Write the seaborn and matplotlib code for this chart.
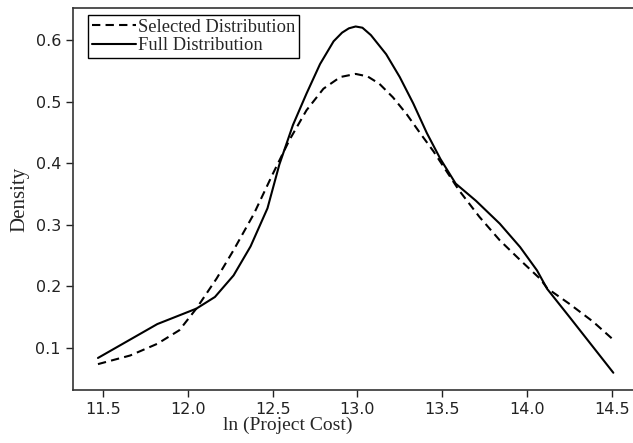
import pandas as pd
import matplotlib.pyplot as plt
import seaborn as sns

# values
full_x = [11.47, 11.82, 12.05, 12.16, 12.27, 12.37, 12.47, 12.54, 12.62, 12.70,
          12.78, 12.86, 12.91, 12.95, 12.99, 13.03, 13.08, 13.17, 13.25, 13.33,
          13.41, 13.49, 13.58, 13.70, 13.84, 13.96, 14.06, 14.12, 14.25, 14.39,
          14.51]
full_y = [0.084, 0.139, 0.164, 0.183, 0.218, 0.265, 0.327, 0.398, 0.462, 0.513,
          0.561, 0.598, 0.612, 0.619, 0.622, 0.620, 0.608, 0.577, 0.540, 0.497,
          0.449, 0.407, 0.367, 0.339, 0.302, 0.264, 0.226, 0.196, 0.151, 0.102,
          0.060]

sel_x = [11.47, 11.66, 11.82, 11.95, 12.05, 12.17, 12.27, 12.39, 12.50, 12.60,
         12.70, 12.80, 12.90, 12.99, 13.06, 13.13, 13.21, 13.29, 13.37, 13.45,
         13.60, 13.72, 13.84, 13.96, 14.08, 14.12, 14.25, 14.39, 14.50]
sel_y = [0.074, 0.088, 0.107, 0.129, 0.164, 0.213, 0.259, 0.318, 0.382, 0.438,
         0.486, 0.521, 0.540, 0.545, 0.541, 0.529, 0.507, 0.480, 0.449, 0.419,
         0.356, 0.313, 0.275, 0.243, 0.212, 0.197, 0.172, 0.143, 0.116]

labels = ['Selected Distribution', 'Full Distribution']
x_ticks = [11.5, 12.0, 12.5, 13.0, 13.5, 14.0, 14.5]
y_ticks = [0.1, 0.2, 0.3, 0.4, 0.5, 0.6]

df = pd.concat([
    pd.DataFrame({'x': sel_x, 'y': sel_y, 'dist': labels[0]}),
    pd.DataFrame({'x': full_x, 'y': full_y, 'dist': labels[1]}),
])

sns.set_style('ticks')
plt.rcParams['font.family'] = ['DejaVu Sans']
serif = ['Liberation Serif', 'DejaVu Serif']

fig = plt.figure(figsize=(6.33, 4.43), dpi=100)
ax = fig.add_axes([72.7 / 633, 53 / 443, 1 - 72.7 / 633, 382 / 443])

sns.lineplot(data=df, x='x', y='y', hue='dist', style='dist',
             hue_order=labels, style_order=labels,
             palette={labels[0]: 'black', labels[1]: 'black'},
             dashes={labels[0]: (4, 2.5), labels[1]: ''},
             linewidth=1.5, ax=ax)

ax.set_xlim(11.321, 14.626)
ax.set_ylim(0.032, 0.652)
ax.set_xticks(x_ticks)
ax.set_yticks(y_ticks)
ax.tick_params(labelsize=11.5, length=5, width=1, colors='#222222')
for side in ['left', 'bottom', 'top']:
    ax.spines[side].set_color('#333333')
    ax.spines[side].set_linewidth(1.2)
ax.spines['right'].set_visible(False)

ax.set_xlabel('ln (Project Cost)', family=serif, fontsize=14)
ax.xaxis.set_label_coords(0.384, -0.071)
ax.set_ylabel('Density', family=serif, fontsize=15, labelpad=4)

leg = ax.legend(loc='upper left', bbox_to_anchor=(0.027, 0.982),
                borderaxespad=0, prop={'family': serif, 'size': 13.3},
                handlelength=2.4, handletextpad=0.1, labelspacing=0.08,
                borderpad=0.2, fancybox=False, frameon=True)
leg.get_frame().set_edgecolor('black')
leg.get_frame().set_linewidth(1.0)
leg.get_frame().set_alpha(1)

plt.savefig('out.png', dpi=100)
